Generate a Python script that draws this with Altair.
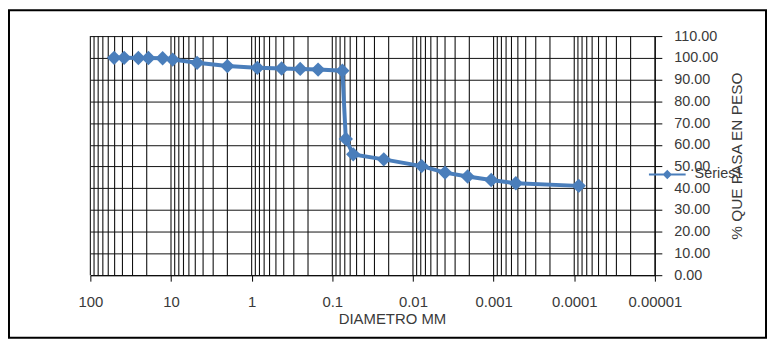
import altair as alt
import pandas as pd

# ---- data ----
diametro = [50.8, 38.1, 25.4, 19.05, 12.7, 9.525, 4.75, 2.0, 0.85, 0.425, 0.25, 0.15, 0.075,
            0.068, 0.055, 0.023, 0.0078, 0.004, 0.0021, 0.00107, 0.00053, 0.000088]
pasa = [100.0, 100.0, 99.9, 99.9, 99.8, 99.2, 97.7, 96.2, 95.4, 95.1, 94.9, 94.6, 94.1,
        62.7, 55.6, 53.3, 50.2, 47.2, 45.4, 43.8, 42.3, 41.1]
serie = "Series1"
x_ticks = [100, 10, 1, 0.1, 0.01, 0.001, 0.0001, 0.00001]
y_ticks = [0, 10, 20, 30, 40, 50, 60, 70, 80, 90, 100, 110]
x_title = "DIAMETRO MM"
y_title = "% QUE PASA EN PESO"

# minor log grid positions (1..9 x each decade)
grid_x = sorted({float(f"{k * d:.6g}") for d in x_ticks[1:] for k in range(1, 10)} | {float(x_ticks[0])})

BLUE = "#4A7EBB"
TXT = "#3a3a3a"
FONT = "Liberation Sans"
W, H = 569, 241

df = pd.DataFrame({"d": diametro, "p": pasa, "s": [serie] * len(diametro)})
gdf = pd.DataFrame({"g": grid_x})

xscale = alt.Scale(type="log", domain=[0.00001, 100], reverse=True, nice=False)
yscale = alt.Scale(domain=[0, 110], nice=False, zero=True)

x_axis = alt.Axis(values=x_ticks, format=".5~f", title=x_title, grid=False,
                  tickSize=6, labelPadding=14, labelFontSize=15, labelFlush=False,
                  titleX=304, titleY=49, titleBaseline="alphabetic", titleAnchor="start",
                  titleAlign="center", titleFontSize=15)
y_axis = alt.Axis(orient="right", values=y_ticks, format=".2f", title=y_title, grid=True,
                  tickSize=7, labelPadding=12, labelFontSize=14.5,
                  titleAngle=270, titleX=82, titleY=H / 2, titleAlign="center",
                  titleBaseline="middle", titleFontSize=15.5)

frame = alt.Chart(pd.DataFrame({"a": [0]})).mark_rect(
    filled=False, color="#000", strokeWidth=2
).encode(x=alt.value(-82), x2=alt.value(681), y=alt.value(-26), y2=alt.value(H + 63))

grid = alt.Chart(gdf).mark_rule(color="#111111", strokeWidth=1.1).encode(
    x=alt.X("g:Q", scale=xscale, axis=x_axis)
)

line = alt.Chart(df).mark_line(color=BLUE, strokeWidth=4).encode(
    x=alt.X("d:Q", scale=xscale, axis=x_axis),
    y=alt.Y("p:Q", scale=yscale, axis=y_axis),
)

points = alt.Chart(df).mark_point(shape="diamond", filled=True, size=210, opacity=1).encode(
    x=alt.X("d:Q", scale=xscale, axis=x_axis),
    y=alt.Y("p:Q", scale=yscale, axis=y_axis),
    color=alt.Color("s:N", scale=alt.Scale(range=[BLUE]),
                    legend=alt.Legend(title=None, orient="none", legendX=562, legendY=120,
                                      symbolType="M-1,0L1,0M0,-0.18L0.18,0L0,0.18L-0.18,0Z",
                                      symbolSize=1369, symbolStrokeColor=BLUE,
                                      symbolStrokeWidth=2, labelFontSize=14.5,
                                      labelColor=TXT, labelFont=FONT, labelOffset=8,
                                      padding=0)),
)

chart = alt.layer(frame, grid, line, points).properties(
    width=W, height=H,
    autosize=alt.AutoSizeParams(type="none"),
    padding={"left": 83, "top": 27, "right": 113, "bottom": 65},
).configure_view(stroke=None).configure_axis(
    labelFont=FONT, titleFont=FONT, labelColor=TXT, titleColor=TXT,
    titleFontWeight="normal", domainColor="#000", tickColor="#000",
    gridColor="#111111", gridOpacity=1, domainWidth=1, tickWidth=1
)

chart.save("out.html", embed_options={"renderer": "svg", "actions": False})
